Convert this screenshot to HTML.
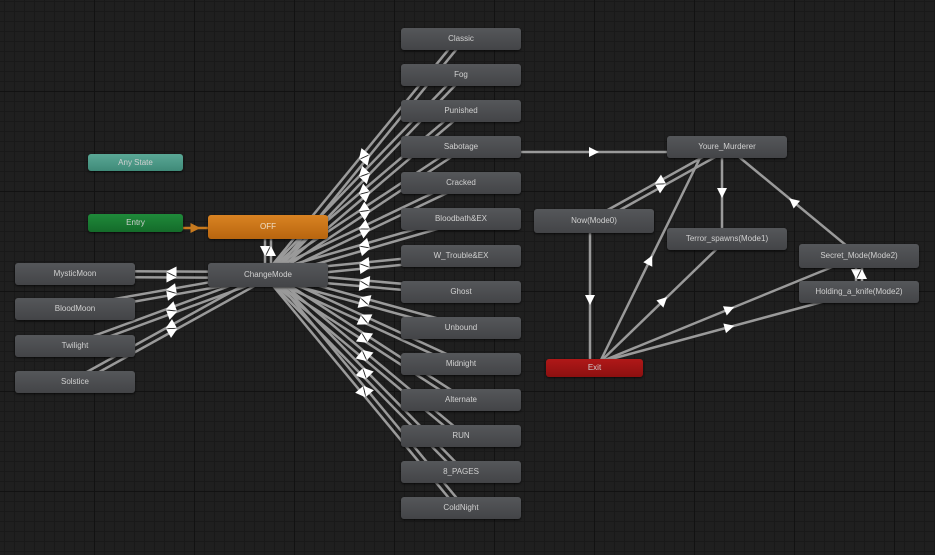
<!DOCTYPE html>
<html><head><meta charset="utf-8"><style>
html,body{margin:0;padding:0}
body{width:935px;height:555px;overflow:hidden;position:relative;background-color:#1f1f1f;
background-image:linear-gradient(#121212 1px,transparent 1px),linear-gradient(90deg,#121212 1px,transparent 1px),linear-gradient(#191919 1px,transparent 1px),linear-gradient(90deg,#191919 1px,transparent 1px);
background-size:100px 100px,100px 100px,10px 10px,10px 10px;background-position:-6px -9px;font-family:"Liberation Sans",sans-serif}
svg{position:absolute;left:0;top:0}
.n{position:absolute;width:120px;height:22px;line-height:22px;text-align:center;font-size:8px;color:#d0d0d0;border-radius:3px;
background:linear-gradient(#55575a,#434447);box-shadow:0 1px 2px rgba(0,0,0,.7)}
</style></head><body>
<svg id="s" width="935" height="555"></svg>
<div class="n" style="left:401px;top:28px">Classic</div>
<div class="n" style="left:401px;top:64px">Fog</div>
<div class="n" style="left:401px;top:100px">Punished</div>
<div class="n" style="left:401px;top:136px">Sabotage</div>
<div class="n" style="left:401px;top:172px">Cracked</div>
<div class="n" style="left:401px;top:208px">Bloodbath&amp;EX</div>
<div class="n" style="left:401px;top:245px">W_Trouble&amp;EX</div>
<div class="n" style="left:401px;top:281px">Ghost</div>
<div class="n" style="left:401px;top:317px">Unbound</div>
<div class="n" style="left:401px;top:353px">Midnight</div>
<div class="n" style="left:401px;top:389px">Alternate</div>
<div class="n" style="left:401px;top:425px">RUN</div>
<div class="n" style="left:401px;top:461px">8_PAGES</div>
<div class="n" style="left:401px;top:497px">ColdNight</div>
<div class="n" style="left:208px;top:263px;height:24px;line-height:24px">ChangeMode</div>
<div class="n" style="left:208px;top:215px;height:24px;line-height:24px;background:linear-gradient(#d98322,#b8650f);color:#f0e0c8">OFF</div>
<div class="n" style="left:88px;top:214px;width:95px;height:18px;line-height:18px;background:linear-gradient(#1f8a3a,#146b2a)">Entry</div>
<div class="n" style="left:88px;top:154px;width:95px;height:17px;line-height:17px;background:linear-gradient(#5aa896,#3f8a78)">Any State</div>
<div class="n" style="left:15px;top:263px">MysticMoon</div>
<div class="n" style="left:15px;top:298px">BloodMoon</div>
<div class="n" style="left:15px;top:335px">Twilight</div>
<div class="n" style="left:15px;top:371px">Solstice</div>
<div class="n" style="left:667px;top:136px">Youre_Murderer</div>
<div class="n" style="left:534px;top:209px;height:24px;line-height:24px">Now(Mode0)</div>
<div class="n" style="left:667px;top:228px">Terror_spawns(Mode1)</div>
<div class="n" style="left:799px;top:244px;height:24px;line-height:24px">Secret_Mode(Mode2)</div>
<div class="n" style="left:799px;top:281px">Holding_a_knife(Mode2)</div>
<div class="n" style="left:546px;top:359px;width:97px;height:18px;line-height:18px;background:linear-gradient(#b01818,#8c1010)">Exit</div>
<script>
var s=document.getElementById('s'),h='';
function ln(x1,y1,x2,y2,c,arrow){c=c||'#9a9a9a';
 h+='<line x1="'+x1+'" y1="'+y1+'" x2="'+x2+'" y2="'+y2+'" stroke="'+c+'" stroke-width="2.5"/>';
 if(arrow!==false){var mx=(x1+x2)/2,my=(y1+y2)/2,dx=x2-x1,dy=y2-y1,l=Math.hypot(dx,dy);dx/=l;dy/=l;
 var a=[mx+dx*5,my+dy*5],b=[mx-dx*5-dy*5,my-dy*5+dx*5],d=[mx-dx*5+dy*5,my-dy*5-dx*5];
 h+='<polygon points="'+a+' '+b+' '+d+'" fill="'+(c=='#9a9a9a'?'#fff':c)+'"/>';}}
function pair(x1,y1,x2,y2){var dx=x2-x1,dy=y2-y1,l=Math.hypot(dx,dy),px=-dy/l*3,py=dx/l*3;
 ln(x1+px,y1+py,x2+px,y2+py);ln(x2-px,y2-py,x1-px,y1-py);}
var ys=[39,75,111,147,183,219,256,292,328,364,400,436,472,508];
ys.forEach(function(y){pair(268,275,461,y)});
[274,309,346,382].forEach(function(y){pair(268,275,75,y)});
pair(268,227,268,275);
ln(183,228,208,228,'#c87a1e');
ln(461,152,727,152);
pair(594,221,727,147);
ln(590,232,590,368);
ln(722,147,722,239);
ln(859,256,727,147);
ln(600,362,700,158);
ln(600,362,727,239);
ln(600,362,859,256);
ln(600,362,859,292);
pair(859,256,859,292);
s.innerHTML=h;
</script>
</body></html>
